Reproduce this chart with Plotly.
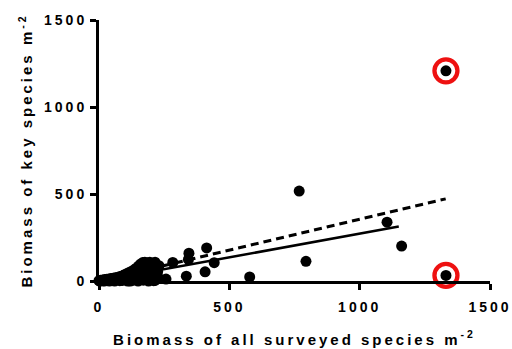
import plotly.graph_objects as go

# Dense group of small plots near the origin
cluster_x = [0, 3, 6, 10, 14, 18, 22, 26, 30, 34, 38, 42, 46, 50, 54, 58, 62, 66, 70, 74,
             78, 82, 86, 90, 95, 100, 104, 108, 112, 116, 120, 124, 128, 132, 136, 140, 144,
             148, 152, 156, 160, 164, 168, 172, 176, 180, 185, 190, 195, 200, 205, 210, 215,
             220, 225, 230, 60, 80, 120, 150, 170, 190, 200, 215, 180, 130, 160, 110, 90, 40,
             20, 140, 175, 195, 205, 225]
cluster_y = [2, 0, 4, 1, 6, 2, 8, 3, 10, 5, 12, 4, 14, 6, 16, 3, 18, 9, 20, 12,
             24, 6, 28, 15, 34, 8, 40, 22, 46, 12, 52, 30, 58, 5, 66, 40, 74,
             20, 86, 55, 98, 10, 106, 70, 108, 35, 104, 85, 108, 50, 100, 2, 108,
             70, 25, 88, 0, 2, 0, 0, 5, 0, 20, 3, 60, 25, 45, 0, 3, 0,
             0, 8, 30, 60, 80, 55]

# Remaining plots, including the two outliers
other_x = [257, 283, 335, 343, 345, 413, 442, 407, 578, 768, 794, 1105, 1161, 1331, 1331]
other_y = [11, 107, 28, 124, 160, 190, 105, 53, 23, 517, 113, 338, 201, 1208, 32]

# Outlier plots that are circled
outlier_x = [1331, 1331]
outlier_y = [1208, 32]

# Fitted lines through the origin: slope and end of each line
fit_without_outliers = {"slope": 0.272, "x_end": 1150}
fit_with_outliers = {"slope": 0.355, "x_end": 1330}

tick_vals = [0, 500, 1000, 1500]
tick_text = ["0", "500", "1000", "1500"]

x_all = cluster_x + other_x
y_all = cluster_y + other_y

font_family = "'Liberation Sans', Arial, sans-serif"

fig = go.Figure()

fig.add_trace(go.Scatter(
    x=[0, fit_with_outliers["x_end"]],
    y=[0, fit_with_outliers["slope"] * fit_with_outliers["x_end"]],
    mode="lines", line=dict(color="black", width=3, dash="8px,5px"),
    showlegend=False, hoverinfo="skip", cliponaxis=False,
))
fig.add_trace(go.Scatter(
    x=[0, fit_without_outliers["x_end"]],
    y=[0, fit_without_outliers["slope"] * fit_without_outliers["x_end"]],
    mode="lines", line=dict(color="black", width=2.5),
    showlegend=False, hoverinfo="skip", cliponaxis=False,
))
fig.add_trace(go.Scatter(
    x=x_all, y=y_all, mode="markers",
    marker=dict(color="black", size=11, line=dict(width=0)),
    showlegend=False, cliponaxis=False,
))
fig.add_trace(go.Scatter(
    x=outlier_x, y=outlier_y, mode="markers",
    marker=dict(symbol="circle-open", color="#ee1111", size=23, line=dict(width=4.3)),
    showlegend=False, cliponaxis=False,
))

axis_common = dict(
    range=[0, 1500], tickmode="array", tickvals=tick_vals, ticktext=tick_text,
    showgrid=False, zeroline=False, showline=True, linecolor="black", linewidth=3,
    ticks="outside", ticklen=6, tickwidth=3, tickcolor="black",
    tickfont=dict(family=font_family, size=14, color="black", weight=700),
    automargin=False,
)

fig.update_layout(
    width=512, height=349,
    margin=dict(l=99, r=22, t=20, b=68),
    paper_bgcolor="white", plot_bgcolor="white",
    xaxis=dict(**axis_common, ticklabelstandoff=5,
               title=dict(text="Biomass of all surveyed species m<sup>-2</sup>",
                          font=dict(family=font_family, size=15, color="black", weight=700),
                          standoff=21)),
    yaxis=dict(**axis_common,
               title=dict(text="Biomass of key species m<sup>-2</sup>",
                          font=dict(family=font_family, size=15, color="black", weight=700),
                          standoff=20)),
)

# Wide letter spacing on axis text
spacing_css = (
    "var s=document.createElement('style');"
    "s.textContent='.xtitle,.ytitle,.xtick text,.ytick text{letter-spacing:3px}';"
    "document.head.appendChild(s);"
)

fig.write_html("out.html", post_script=spacing_css)
